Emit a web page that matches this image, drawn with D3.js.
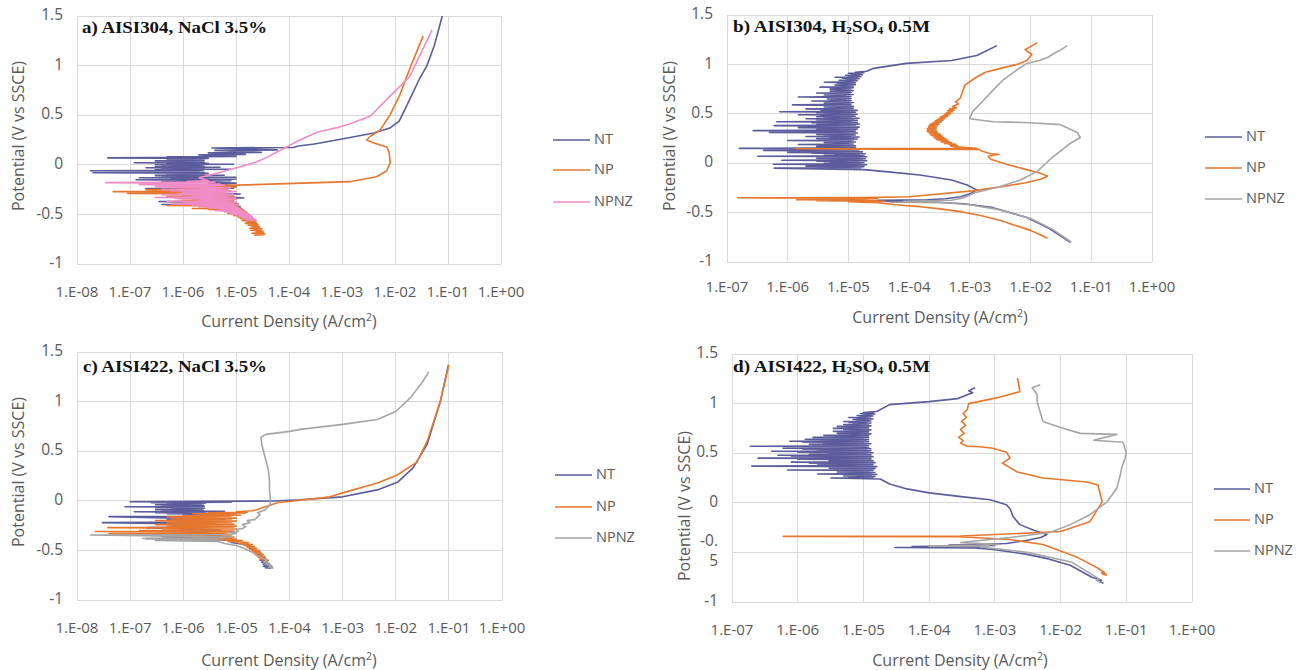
<!DOCTYPE html>
<html><head><meta charset="utf-8">
<script src="https://cdn.jsdelivr.net/npm/d3@7/dist/d3.min.js"></script>
<style>
body{margin:0;background:#fff}
svg{display:block}
text{font-family:"Open Sans",sans-serif;fill:#595959}
.ttl{font-family:"Liberation Serif","Times New Roman",serif;fill:#111;font-weight:bold}
</style>
</head><body>
<svg id="chart" width="1308" height="670"></svg>
<script>
// ---------- DATA ----------
const seriesNames = ["NT", "NP", "NPNZ"];
const yTicks = [-1, -0.5, 0, 0.5, 1, 1.5];
const xTicksFrom8 = [1e-8, 1e-7, 1e-6, 1e-5, 1e-4, 1e-3, 1e-2, 1e-1, 1];
const xTicksFrom7 = [1e-7, 1e-6, 1e-5, 1e-4, 1e-3, 1e-2, 1e-1, 1];
const xTitle = "Current Density (A/cm";
const yTitle = "Potential (V vs SSCE)";

// each point: [current density A/cm2, potential V vs SSCE]
const aNT = [[1.3e-5,-0.44],[9e-6,-0.43],[1.2e-5,-0.42],[4e-7,-0.40],[1.1e-5,-0.395],[3.5e-7,-0.37],[9e-6,-0.365],[1.5e-6,-0.34],[1.4e-5,-0.335],[2e-6,-0.30],[1.2e-5,-0.295],[8e-7,-0.27],[7e-6,-0.265],[2e-7,-0.24],[9e-6,-0.235],[1e-6,-0.22],[1e-5,-0.215],[3e-6,-0.19],[1e-5,-0.185],[4e-7,-0.165],[8e-6,-0.16],[1.3e-7,-0.15],[1e-5,-0.145],[6e-7,-0.14],[3e-6,-0.135],[1.5e-7,-0.13],[1e-5,-0.125],[4e-7,-0.12],[2.5e-6,-0.115],[3e-7,-0.11],[6e-6,-0.105],[5e-7,-0.10],[2.5e-6,-0.095],[3e-7,-0.09],[3e-6,-0.085],[2e-8,-0.08],[2.5e-6,-0.075],[3e-7,-0.07],[2e-6,-0.065],[1.8e-8,-0.06],[2.4e-6,-0.055],[3e-7,-0.05],[8e-6,-0.045],[4e-7,-0.04],[2.5e-6,-0.035],[2e-7,-0.03],[5e-6,-0.025],[3e-7,-0.02],[2.5e-6,-0.015],[4e-7,-0.01],[2.2e-6,-0.005],[3e-7,0.0],[9e-6,0.005],[5e-7,0.01],[3e-6,0.015],[1.2e-7,0.02],[2.5e-6,0.025],[4e-7,0.03],[2.4e-6,0.035],[3e-7,0.04],[2.5e-6,0.045],[5e-7,0.05],[2.4e-6,0.055],[6e-7,0.06],[3e-6,0.065],[3.8e-8,0.07],[2.8e-6,0.075],[5e-7,0.08],[1e-5,0.085],[2e-6,0.10],[1.5e-5,0.105],[3e-6,0.12],[3e-5,0.125],[4e-6,0.145],[6e-5,0.15],[3.5e-6,0.17],[1.2e-4,0.175],[1.5e-4,0.19],[3e-4,0.21],[1e-3,0.26],[4e-3,0.32],[8e-3,0.37],[1.2e-2,0.44],[1.9e-2,0.66],[2.8e-2,0.85],[4e-2,1.0],[5.5e-2,1.2],[7.8e-2,1.5]];
const aNP = [[2.2e-5,-0.71],[3.4e-5,-0.705],[2.5e-5,-0.70],[3.5e-5,-0.695],[2e-5,-0.69],[3.3e-5,-0.68],[2.4e-5,-0.675],[3.2e-5,-0.67],[1.9e-5,-0.66],[3e-5,-0.655],[2.2e-5,-0.65],[3.1e-5,-0.645],[1.8e-5,-0.64],[2.8e-5,-0.63],[2e-5,-0.625],[2.7e-5,-0.62],[1.7e-5,-0.61],[2.6e-5,-0.605],[1.8e-5,-0.60],[2.5e-5,-0.595],[1.5e-5,-0.59],[2.4e-5,-0.58],[1.6e-5,-0.575],[2.3e-5,-0.57],[1.3e-5,-0.56],[2.2e-5,-0.555],[1.4e-5,-0.55],[2.1e-5,-0.545],[1.2e-5,-0.54],[2e-5,-0.53],[1.1e-5,-0.525],[1.9e-5,-0.52],[9e-6,-0.51],[1.8e-5,-0.505],[1e-5,-0.50],[1.7e-5,-0.495],[7e-6,-0.49],[1.6e-5,-0.48],[8e-6,-0.475],[1.5e-5,-0.47],[5e-6,-0.46],[1.4e-5,-0.455],[3e-6,-0.45],[1.3e-5,-0.445],[1.5e-6,-0.44],[1.2e-5,-0.435],[3e-6,-0.43],[1.1e-5,-0.425],[2e-6,-0.42],[1e-5,-0.415],[5e-7,-0.41],[1.1e-5,-0.405],[1.5e-6,-0.40],[9e-6,-0.395],[1e-6,-0.39],[1e-5,-0.385],[2e-6,-0.38],[8e-6,-0.375],[7e-7,-0.37],[9e-6,-0.365],[1e-6,-0.36],[8e-6,-0.355],[1.5e-6,-0.35],[1e-5,-0.345],[8e-7,-0.34],[9e-6,-0.335],[3e-6,-0.33],[8e-6,-0.325],[5e-7,-0.32],[9e-6,-0.315],[1e-6,-0.31],[6e-6,-0.305],[4e-7,-0.30],[7e-6,-0.295],[9e-8,-0.29],[3e-6,-0.285],[1e-6,-0.28],[5e-6,-0.275],[4.8e-8,-0.27],[8e-6,-0.265],[6e-7,-0.26],[6e-6,-0.255],[2e-7,-0.25],[7e-6,-0.245],[1e-6,-0.24],[6e-6,-0.235],[8e-7,-0.23],[1e-5,-0.225],[3e-6,-0.22],[1e-5,-0.215],[2e-6,-0.21],[1.1e-5,-0.205],[1.8e-4,-0.185],[1.4e-3,-0.17],[4.5e-3,-0.12],[7e-3,-0.06],[8.1e-3,0.02],[7.8e-3,0.12],[7e-3,0.18],[4e-3,0.22],[2.9e-3,0.25],[3.5e-3,0.29],[5.2e-3,0.35],[8e-3,0.5],[1.2e-2,0.69],[2e-2,1.0],[3.4e-2,1.3]];
const aNPNZ = [[2.5e-5,-0.56],[1.6e-5,-0.555],[2.3e-5,-0.55],[1.4e-5,-0.54],[2.1e-5,-0.535],[1.3e-5,-0.53],[2e-5,-0.52],[1.1e-5,-0.515],[1.8e-5,-0.51],[9e-6,-0.50],[1.7e-5,-0.495],[8e-6,-0.49],[1.5e-5,-0.48],[6e-6,-0.475],[1.4e-5,-0.47],[4e-6,-0.46],[1.3e-5,-0.455],[5e-6,-0.45],[1.2e-5,-0.44],[3e-6,-0.435],[1.1e-5,-0.43],[2e-6,-0.42],[1e-5,-0.415],[1.5e-6,-0.41],[1.1e-5,-0.40],[6e-7,-0.395],[9e-6,-0.39],[1e-6,-0.38],[1e-5,-0.375],[5e-7,-0.37],[8e-6,-0.36],[2e-6,-0.355],[9e-6,-0.35],[7e-7,-0.34],[1e-5,-0.335],[3e-7,-0.33],[7e-6,-0.32],[1.5e-6,-0.315],[8e-6,-0.31],[4e-7,-0.30],[9e-6,-0.295],[8e-7,-0.29],[6e-6,-0.28],[1e-6,-0.275],[1e-5,-0.27],[6e-7,-0.26],[7e-6,-0.255],[4e-7,-0.25],[5e-6,-0.24],[2e-6,-0.235],[8e-6,-0.23],[3e-7,-0.22],[4e-6,-0.215],[1e-6,-0.21],[6e-6,-0.205],[1.5e-7,-0.20],[5e-6,-0.195],[5e-7,-0.19],[3e-6,-0.185],[3.5e-8,-0.18],[4e-6,-0.175],[1.2e-6,-0.17],[3e-6,-0.16],[2e-6,-0.13],[4e-6,-0.09],[1.2e-5,-0.02],[2.5e-5,0.03],[4e-5,0.08],[1.6e-4,0.25],[3.5e-4,0.33],[9e-4,0.38],[1.5e-3,0.42],[3.4e-3,0.49],[7e-3,0.66],[1.9e-2,0.89],[5e-2,1.36]];

const bNT = [[4.5e-2,-0.80],[3.8e-2,-0.77],[2e-2,-0.66],[8.7e-3,-0.55],[2.4e-3,-0.45],[8e-4,-0.41],[3e-4,-0.395],[1.5e-4,-0.39],[2e-5,-0.385],[1.5e-4,-0.38],[3e-5,-0.375],[2e-4,-0.37],[4e-4,-0.36],[7e-4,-0.34],[1e-3,-0.31],[1.3e-3,-0.27],[9e-4,-0.22],[5e-4,-0.17],[1.5e-4,-0.12],[5e-5,-0.09],[1.8e-5,-0.065],
[6e-7,-0.05],[1.6e-5,-0.045],[5e-6,-0.04],[1.8e-5,-0.035],[2e-6,-0.03],[1.5e-5,-0.025],[6e-6,-0.02],[2e-5,-0.015],[5.8e-7,-0.01],[1.6e-5,-0.005],[4e-6,0],[1.8e-5,0.005],[5e-6,0.01],[1.5e-5,0.015],[3e-6,0.02],[2e-5,0.025],[8e-7,0.03],[1.7e-5,0.035],[5.6e-6,0.04],[1.9e-5,0.045],[3e-6,0.05],[1.6e-5,0.055],[6e-6,0.06],[2e-5,0.065],[3.2e-7,0.07],[1.8e-5,0.075],[4e-6,0.08],[1.5e-5,0.085],[6e-6,0.09],[1.9e-5,0.095],[2.5e-6,0.10],[1.6e-5,0.105],[1e-6,0.11],[1.7e-5,0.115],[5e-6,0.12],[1.4e-5,0.125],[4e-7,0.13],[1.5e-5,0.135],[6e-6,0.14],[1.2e-5,0.145],[1.6e-7,0.15],[1.3e-5,0.155],[5e-6,0.16],[1.1e-5,0.165],[3e-6,0.17],[1.3e-5,0.175],[6e-6,0.18],[1.1e-5,0.185],[1.5e-6,0.19],[1.2e-5,0.195],[5e-6,0.20],[1e-5,0.205],[4e-6,0.21],[1.3e-5,0.215],[6e-6,0.22],[1.1e-5,0.225],[1e-6,0.23],[1.2e-5,0.235],[5e-6,0.24],[1.4e-5,0.245],[3e-6,0.25],[1.2e-5,0.255],[5e-6,0.26],[1.5e-5,0.265],[2e-6,0.27],[1.1e-5,0.275],[4e-6,0.28],[1.3e-5,0.285],[3e-6,0.29],[1.2e-5,0.295],[4.5e-6,0.30],[1.4e-5,0.305],[5e-7,0.31],[1.1e-5,0.315],[3.5e-6,0.32],[1.3e-5,0.325],[2.7e-7,0.33],[9e-6,0.335],[3e-6,0.34],[1.4e-5,0.345],[4e-6,0.35],[1.2e-5,0.355],[1.5e-6,0.36],[1.5e-5,0.365],[3.4e-6,0.37],[1.2e-5,0.375],[6e-7,0.38],[1.3e-5,0.385],[3e-6,0.39],[1.5e-5,0.395],[4e-6,0.40],[1.2e-5,0.405],[2.5e-6,0.41],[1.4e-5,0.415],[6.6e-7,0.42],[1.1e-5,0.425],[3.5e-6,0.43],[1.4e-5,0.435],[3e-6,0.44],[1.2e-5,0.445],[2e-6,0.45],[1.5e-5,0.455],[4e-6,0.46],[1.1e-5,0.465],[3e-6,0.47],[1.3e-5,0.475],[3.5e-6,0.48],[1.2e-5,0.485],[1.5e-6,0.49],[1.4e-5,0.495],[4e-6,0.50],[1.1e-5,0.505],[3e-6,0.51],[1.3e-5,0.515],[7.4e-7,0.52],[1.2e-5,0.525],[4e-6,0.53],[1.4e-5,0.535],[3.5e-6,0.54],[1.1e-5,0.545],[2e-6,0.55],[1.2e-5,0.555],[5e-6,0.56],[1e-5,0.565],[4e-6,0.57],[1.2e-5,0.575],[5e-6,0.58],[1e-5,0.585],[1.2e-6,0.59],[1.1e-5,0.595],[5e-6,0.60],[1e-5,0.605],[4e-6,0.61],[1.2e-5,0.615],[5.5e-6,0.62],[1e-5,0.625],[2.5e-6,0.63],[1.1e-5,0.635],[5e-6,0.64],[9e-6,0.645],[4.5e-6,0.65],[1.1e-5,0.655],[5.5e-6,0.66],[1e-5,0.665],[1.5e-6,0.67],[1.1e-5,0.675],[5e-6,0.68],[9e-6,0.685],[4e-6,0.69],[1.2e-5,0.695],[6e-6,0.70],[1e-5,0.705],[3e-6,0.71],[1.1e-5,0.715],[6e-6,0.72],[1e-5,0.725],[5e-6,0.73],[1.2e-5,0.735],[6.5e-6,0.74],[1e-5,0.745],[5e-6,0.75],[1.1e-5,0.755],[6e-6,0.76],[1.2e-5,0.765],[3.4e-6,0.77],[1.1e-5,0.775],[7e-6,0.78],[1.2e-5,0.785],[6e-6,0.79],[1.3e-5,0.795],[7e-6,0.80],[1.1e-5,0.805],[6.5e-6,0.81],[1.3e-5,0.815],[4e-6,0.82],[1.2e-5,0.825],[8e-6,0.83],[1.4e-5,0.835],[7e-6,0.84],[1.3e-5,0.845],[9e-6,0.85],[1.5e-5,0.855],[8e-6,0.86],[1.4e-5,0.865],[6e-6,0.87],[1.6e-5,0.875],[1e-5,0.88],[1.5e-5,0.885],[9e-6,0.89],[1.7e-5,0.895],[1.1e-5,0.90],[1.6e-5,0.905],[1e-5,0.91],[1.8e-5,0.915],[1.3e-5,0.92],[2e-5,0.93],
[2.6e-5,0.96],[9e-5,1.01],[5e-4,1.04],[1.3e-3,1.09],[2.8e-3,1.19]];
const bNP = [[1.9e-2,-0.76],[1.5e-2,-0.73],[1e-2,-0.68],[5e-3,-0.62],[3.2e-3,-0.58],[1.5e-3,-0.53],[7e-4,-0.49],[3e-4,-0.46],[1.5e-4,-0.44],[6e-5,-0.42],[3e-5,-0.40],[1e-5,-0.39],[4e-5,-0.385],[3e-6,-0.38],[3e-5,-0.375],[1.4e-6,-0.37],[2e-5,-0.365],[5e-6,-0.36],[3e-5,-0.355],[1.5e-7,-0.35],[2e-5,-0.348],[1e-4,-0.34],[1.1e-3,-0.28],[3.2e-3,-0.24],[8e-3,-0.20],[1.5e-2,-0.16],[1.9e-2,-0.13],[1.4e-2,-0.10],[8e-3,-0.06],[4e-3,-0.01],[2.2e-3,0.04],[2e-3,0.07],[3e-3,0.09],[2.2e-3,0.095],[1.6e-3,0.12],[1.4e-3,0.14],[3e-5,0.142],[1.4e-6,0.147],[1.3e-3,0.152],
[6e-4,0.165],[4.8e-4,0.175],[6.2e-4,0.18],[4.5e-4,0.19],[5.8e-4,0.195],[3.8e-4,0.20],[5e-4,0.21],[3.4e-4,0.215],[4.6e-4,0.22],[3.1e-4,0.23],[4.3e-4,0.235],[2.8e-4,0.24],[4e-4,0.25],[2.6e-4,0.255],[3.7e-4,0.26],[2.5e-4,0.27],[3.5e-4,0.275],[2.3e-4,0.28],[3.3e-4,0.29],[2.2e-4,0.295],[3.1e-4,0.30],[2.1e-4,0.31],[2.9e-4,0.315],[2e-4,0.32],[2.8e-4,0.33],[2e-4,0.335],[2.7e-4,0.34],[2e-4,0.35],[2.8e-4,0.355],[2.1e-4,0.36],[2.8e-4,0.37],[2.1e-4,0.375],[2.9e-4,0.38],[2.2e-4,0.39],[3.1e-4,0.395],[2.3e-4,0.40],[3.2e-4,0.41],[2.5e-4,0.415],[3.4e-4,0.42],[2.7e-4,0.43],[3.6e-4,0.435],[2.9e-4,0.44],[3.8e-4,0.45],[3.1e-4,0.455],[4e-4,0.46],[3.3e-4,0.47],[4.3e-4,0.475],[3.6e-4,0.48],[4.6e-4,0.49],[3.8e-4,0.495],[4.8e-4,0.50],[4.1e-4,0.51],[5.2e-4,0.52],[4.3e-4,0.53],[5.6e-4,0.54],[4.6e-4,0.55],[6e-4,0.56],[5.2e-4,0.575],[6.5e-4,0.6],[5.8e-4,0.62],[7e-4,0.66],[7.5e-4,0.72],[8.3e-4,0.79],[1.2e-3,0.86],[1.8e-3,0.92],[3.2e-3,0.96],[6e-3,1.0],[8.7e-3,1.04],[1.05e-2,1.1],[8.1e-3,1.15],[1.3e-2,1.22]];
const bNPNZ = [[4.7e-2,-0.80],[4e-2,-0.77],[2.3e-2,-0.67],[1e-2,-0.56],[3e-3,-0.47],[1e-3,-0.42],[4e-4,-0.40],[5e-5,-0.395],[3e-4,-0.39],[8e-5,-0.385],[5e-4,-0.375],[8e-4,-0.35],[1.2e-3,-0.30],[3e-3,-0.24],[6.8e-3,-0.17],[1.3e-2,-0.08],[2.3e-2,0.06],[4.5e-2,0.2],[6.6e-2,0.26],[5.9e-2,0.31],[3.1e-2,0.39],[1e-2,0.41],[2.4e-3,0.42],[1e-3,0.45],[1.1e-3,0.52],[1.7e-3,0.64],[2.5e-3,0.75],[3.5e-3,0.84],[5.5e-3,0.93],[8.7e-3,1.01],[1.4e-2,1.04],[1.9e-2,1.07],[2.6e-2,1.12],[3.2e-2,1.15],[4e-2,1.19]];

const cNT = [[4.5e-5,-0.68],[3.5e-5,-0.675],[4.7e-5,-0.665],[3.2e-5,-0.66],[4.4e-5,-0.65],[3.2e-5,-0.64],[4e-5,-0.63],[3e-5,-0.62],[3.8e-5,-0.61],[2.8e-5,-0.60],[3.5e-5,-0.58],[2.4e-5,-0.55],[2.8e-5,-0.52],[1.8e-5,-0.48],[1.5e-5,-0.44],[8e-6,-0.42],[1e-5,-0.40],[2e-7,-0.38],[6e-6,-0.375],[4e-7,-0.36],[4e-6,-0.355],[1e-6,-0.35],[5e-6,-0.345],[3e-7,-0.33],[3e-6,-0.325],[8e-7,-0.30],[5e-6,-0.295],[2e-7,-0.27],[3e-6,-0.265],[6e-7,-0.24],[4e-6,-0.235],[3e-8,-0.22],[2e-6,-0.215],[5e-7,-0.19],[6e-6,-0.185],[4e-8,-0.16],[3e-6,-0.155],[1e-6,-0.14],[7e-6,-0.135],
[5e-7,-0.13],[7e-6,-0.125],[3e-7,-0.12],[2.5e-6,-0.115],[1.2e-7,-0.11],[6e-6,-0.105],[4e-7,-0.10],[2.4e-6,-0.095],[3e-7,-0.09],[2.2e-6,-0.085],[6e-7,-0.08],[2.5e-6,-0.075],[3e-7,-0.07],[2.3e-6,-0.065],[8e-8,-0.06],[2.5e-6,-0.055],[4e-7,-0.05],[2.4e-6,-0.045],[3e-7,-0.04],[2.2e-6,-0.035],[5e-7,-0.03],[2.6e-6,-0.025],[2.5e-7,-0.02],[8e-6,-0.015],[1e-7,-0.01],[5e-5,-0.002],[1.6e-4,0.01],[1e-3,0.04],[4.5e-3,0.11],[1.1e-2,0.19],[2.1e-2,0.33],[3.9e-2,0.57],[6.9e-2,1.0],[9.8e-2,1.37]];
const cNP = [[4e-5,-0.62],[3.3e-5,-0.61],[4e-5,-0.60],[2.8e-5,-0.59],[3.6e-5,-0.58],[2.6e-5,-0.57],[3.4e-5,-0.56],[2.4e-5,-0.55],[3.2e-5,-0.54],[2.2e-5,-0.53],[2.9e-5,-0.52],[2e-5,-0.51],[2.7e-5,-0.50],[1.8e-5,-0.49],[2.4e-5,-0.48],[1.6e-5,-0.47],[2.2e-5,-0.46],[1.4e-5,-0.45],[2e-5,-0.44],[1.1e-5,-0.43],[1.7e-5,-0.42],[7e-6,-0.41],[1.3e-5,-0.40],
[2e-6,-0.39],[1e-5,-0.385],[1e-6,-0.38],[8e-6,-0.375],[1.5e-6,-0.37],[9e-6,-0.365],[6e-7,-0.36],[7e-6,-0.355],[2.5e-7,-0.35],[8e-6,-0.345],[1e-6,-0.34],[7e-6,-0.335],[4e-8,-0.33],[6e-6,-0.325],[8e-7,-0.32],[9e-6,-0.315],[2.2e-8,-0.31],[8e-6,-0.305],[1.5e-7,-0.30],[9e-6,-0.295],[6e-7,-0.29],[1e-5,-0.285],[4e-7,-0.28],[8e-6,-0.275],[3.8e-8,-0.27],[9e-6,-0.265],[5e-7,-0.26],[1e-5,-0.255],[7e-7,-0.25],[8e-6,-0.245],[3e-7,-0.24],[9e-6,-0.235],[1.2e-6,-0.23],[7e-6,-0.225],[5e-7,-0.22],[8e-6,-0.215],[8e-7,-0.21],[1e-5,-0.205],[3e-7,-0.20],[6e-6,-0.195],[1e-6,-0.19],[8e-6,-0.185],[6e-7,-0.18],[1e-5,-0.175],[1.5e-6,-0.17],[7e-6,-0.165],[5e-7,-0.16],[8e-6,-0.155],[1e-6,-0.15],[1.2e-5,-0.145],[2e-6,-0.14],[1e-5,-0.135],[1.5e-6,-0.13],[1.5e-5,-0.125],[3e-6,-0.12],[1.6e-5,-0.115],[1e-5,-0.11],[2e-5,-0.10],[2.4e-5,-0.09],[5.9e-5,-0.02],[5.8e-4,0.04],[1e-3,0.08],[4.5e-3,0.18],[1.07e-2,0.26],[2.5e-2,0.39],[3.9e-2,0.6],[6.9e-2,1.0],[1e-1,1.37]];
const cNPNZ = [[5e-5,-0.68],[4e-5,-0.67],[4.6e-5,-0.655],[3.5e-5,-0.64],[4.2e-5,-0.63],[3.3e-5,-0.62],[3.8e-5,-0.60],[2.6e-5,-0.56],[2e-5,-0.52],[1.4e-5,-0.48],[1e-5,-0.45],[6e-6,-0.43],[4.5e-6,-0.41],[3e-7,-0.40],[5e-6,-0.395],[1.7e-7,-0.38],[6e-6,-0.375],[2e-6,-0.37],[8e-6,-0.365],[1.8e-8,-0.345],[7e-6,-0.34],[1e-5,-0.33],[8e-6,-0.32],[1.1e-5,-0.31],[1e-5,-0.29],[1.3e-5,-0.28],[1.5e-5,-0.26],[1.3e-5,-0.24],[1.8e-5,-0.22],[1.6e-5,-0.20],[2.2e-5,-0.19],[2.8e-5,-0.14],[2.5e-5,-0.12],[3.5e-5,-0.09],[4.3e-5,-0.04],[4.4e-5,0.01],[4.2e-5,0.1],[4.2e-5,0.2],[4e-5,0.31],[3.5e-5,0.43],[3e-5,0.57],[2.9e-5,0.64],[3.6e-5,0.67],[1e-4,0.70],[1.6e-4,0.72],[1e-3,0.77],[4.5e-3,0.82],[1e-2,0.9],[1.9e-2,1.04],[3.2e-2,1.2],[4.2e-2,1.3]];

const dNT = [[4.5e-2,-0.81],[3.8e-2,-0.79],[4.2e-2,-0.78],[3e-2,-0.75],[1.4e-2,-0.63],[6e-3,-0.56],[3.1e-3,-0.52],[9.3e-4,-0.47],[5e-4,-0.455],[3e-5,-0.45],[6e-4,-0.445],[5.5e-5,-0.44],[1e-3,-0.43],[2e-4,-0.425],[1.5e-3,-0.41],[3e-3,-0.38],[5e-3,-0.35],[6.2e-3,-0.32],[4e-3,-0.28],[2.4e-3,-0.22],[1.9e-3,-0.14],[1.7e-3,-0.06],[1.5e-3,-0.02],[8.5e-4,0.03],[3.3e-4,0.06],[1e-4,0.10],[4.6e-5,0.14],[2.5e-5,0.19],[1.8e-5,0.24],
[3.2e-6,0.25],[1.4e-5,0.255],[6e-6,0.26],[1.5e-5,0.265],[5e-6,0.27],[1.3e-5,0.275],[7e-6,0.28],[1.6e-5,0.285],[2e-6,0.29],[1.3e-5,0.295],[6e-6,0.30],[1.5e-5,0.305],[4e-6,0.31],[1.2e-5,0.315],[5e-6,0.32],[1.4e-5,0.325],[7e-7,0.33],[1.3e-5,0.335],[4e-6,0.34],[1.5e-5,0.345],[3e-6,0.35],[1.2e-5,0.355],[3.5e-6,0.36],[1.6e-5,0.365],[2e-7,0.37],[1.3e-5,0.375],[3e-6,0.38],[1.4e-5,0.385],[2e-6,0.39],[1.2e-5,0.395],[1.5e-6,0.40],[1.5e-5,0.405],[8e-7,0.41],[1.3e-5,0.415],[3e-6,0.42],[1.4e-5,0.425],[3e-6,0.43],[1.2e-5,0.435],[1e-6,0.44],[1.3e-5,0.445],[2.5e-7,0.45],[1.1e-5,0.455],[2e-6,0.46],[1.4e-5,0.465],[8e-7,0.47],[1.2e-5,0.475],[5e-7,0.48],[1.3e-5,0.485],[1.5e-6,0.49],[1.1e-5,0.495],[3e-6,0.50],[1.4e-5,0.505],[1e-6,0.51],[1.2e-5,0.515],[4e-7,0.52],[1.3e-5,0.525],[2e-6,0.53],[1.1e-5,0.535],[1.2e-6,0.54],[1.3e-5,0.545],[6e-7,0.55],[1.2e-5,0.555],[2.5e-6,0.56],[1.1e-5,0.565],[1.9e-7,0.57],[1.2e-5,0.575],[3e-6,0.58],[1.1e-5,0.585],[1.5e-6,0.59],[1.3e-5,0.595],[2.5e-6,0.60],[1e-5,0.605],[1.2e-6,0.61],[1.2e-5,0.615],[7.6e-7,0.62],[1.1e-5,0.625],[3e-6,0.63],[1.2e-5,0.635],[1.3e-6,0.64],[1e-5,0.645],[4e-6,0.65],[1.2e-5,0.655],[1.7e-6,0.66],[1.1e-5,0.665],[4e-6,0.67],[1.2e-5,0.675],[2.5e-6,0.68],[1e-5,0.685],[5e-6,0.69],[1.3e-5,0.695],[4e-6,0.70],[1.1e-5,0.705],[6e-6,0.71],[1.2e-5,0.715],[3.5e-6,0.72],[1e-5,0.725],[6e-6,0.73],[1.3e-5,0.735],[5e-6,0.74],[1.1e-5,0.745],[3.5e-6,0.75],[1.2e-5,0.755],[6e-6,0.76],[1.1e-5,0.765],[4e-6,0.77],[1.3e-5,0.775],[7e-6,0.78],[1.1e-5,0.785],[5e-6,0.79],[1.2e-5,0.795],[7e-6,0.80],[1.3e-5,0.805],[6e-6,0.81],[1.1e-5,0.815],[5e-6,0.82],[1.3e-5,0.825],[8e-6,0.83],[1.2e-5,0.835],[7e-6,0.84],[1.4e-5,0.845],[8e-6,0.85],[1.2e-5,0.855],[6e-6,0.86],[1.3e-5,0.865],[9e-6,0.87],[1.4e-5,0.875],[8e-6,0.88],[1.3e-5,0.885],[1e-5,0.89],[1.5e-5,0.895],[9e-6,0.90],[1.4e-5,0.905],[1e-5,0.91],[1.6e-5,0.92],
[2.5e-5,0.99],[1e-4,1.02],[2.7e-4,1.05],[3.8e-4,1.09],[4.6e-4,1.11],[4e-4,1.13],[5e-4,1.16]];
const dNP = [[5.1e-2,-0.73],[4.4e-2,-0.72],[4.9e-2,-0.715],[4.2e-2,-0.705],[4.6e-2,-0.70],[3.5e-2,-0.65],[1.8e-2,-0.55],[5.4e-3,-0.42],[1.7e-3,-0.37],[2.9e-4,-0.342],[6e-7,-0.338],[3e-4,-0.334],[1e-3,-0.32],[1e-2,-0.29],[2.8e-2,-0.19],[4.3e-2,0.01],[3.7e-2,0.18],[2.5e-2,0.21],[5.4e-3,0.25],[2.2e-3,0.31],[1.3e-3,0.40],[1.7e-3,0.45],[1.5e-3,0.51],[9.3e-4,0.55],[5.9e-4,0.565],[3.8e-4,0.57],[3e-4,0.60],[3.3e-4,0.63],[2.8e-4,0.66],[3.4e-4,0.70],[3e-4,0.74],[3.6e-4,0.78],[3.1e-4,0.82],[3.7e-4,0.86],[3.3e-4,0.90],[3.8e-4,0.94],[4e-4,1.0],[1.1e-3,1.06],[2.4e-3,1.12],[2.3e-3,1.2],[2.2e-3,1.26]];
const dNPNZ = [[4e-2,-0.80],[3.5e-2,-0.78],[3.9e-2,-0.77],[1.5e-2,-0.60],[3.1e-3,-0.50],[5.4e-4,-0.44],[1e-4,-0.437],[8e-4,-0.433],[2e-4,-0.43],[1.2e-3,-0.42],[3e-4,-0.40],[1.7e-3,-0.35],[6.9e-3,-0.30],[1.4e-2,-0.22],[2.8e-2,-0.12],[5.1e-2,0.01],[7.2e-2,0.15],[8.1e-2,0.28],[8.5e-2,0.35],[9.6e-2,0.45],[1e-1,0.51],[8.9e-2,0.61],[3.2e-2,0.63],[7.2e-2,0.69],[2e-2,0.70],[1e-2,0.76],[5.4e-3,0.82],[4.4e-3,1.02],[4.4e-3,1.09],[3.7e-3,1.16],[4.9e-3,1.19]];

// ---------- LAYOUT ----------
const colNT = "#5B5C9C", colNP = "#E8772E", colPink = "#F08BC6", colGray = "#A5A5A5";
const panels = [
  {title:"a", data:[aNT,aNP,aNPNZ], colors:[colNT,colNP,colPink], xTicks:xTicksFrom8, box:[77,501,16,264],
   tPos:[82,33], tW:185, xLabDy:29, yT:[20,136], xT:[289,327], leg:[553,590,[140,170,202]]},
  {title:"b", data:[bNT,bNP,bNPNZ], colors:[colNT,colNP,colGray], xTicks:xTicksFrom7, box:[727,1152,15,262],
   tPos:[733,32], tW:197, xLabDy:26, yT:[671,136], xT:[940,323], leg:[1205,1242,[137,168,199]]},
  {title:"c", data:[cNT,cNP,cNPNZ], colors:[colNT,colNP,colGray], xTicks:xTicksFrom8, box:[77,502,352,600],
   tPos:[83,372], tW:184, xLabDy:29, yT:[20,472], xT:[289,666], leg:[555,592,[475,507,538]]},
  {title:"d", data:[dNT,dNP,dNPNZ], colors:[colNT,colNP,colGray], xTicks:xTicksFrom7, box:[732,1192,354,602],
   tPos:[733,372], tW:197, xLabDy:29, yT:[686,506], xT:[960,666], leg:[1214,1250,[489,520,551]], split:true}
];
const titleParts = {
  a:[["a) AISI304, NaCl 3.5%",0]],
  b:[["b) AISI304, H",0],["2",1],["SO",0],["4",1],[" 0.5M",0]],
  c:[["c) AISI422, NaCl 3.5%",0]],
  d:[["d) AISI422, H",0],["2",1],["SO",0],["4",1],[" 0.5M",0]]
};

const svg = d3.select("#chart");
const fmtX = d => { const e = Math.round(Math.log10(d)); return "1.E" + (e < 0 ? "-" : "+") + String(Math.abs(e)).padStart(2, "0"); };

panels.forEach(p => {
  const [x0, x1, y0, y1] = p.box;
  const x = d3.scaleLog().domain([p.xTicks[0], 1]).range([x0, x1]);
  const y = d3.scaleLinear().domain([-1, 1.5]).range([y1, y0]);
  const g = svg.append("g");

  g.append("g").selectAll("line").data(p.xTicks).join("line")
    .attr("x1", d => x(d)).attr("x2", d => x(d)).attr("y1", y0).attr("y2", y1)
    .attr("stroke", "#D9D9D9").attr("stroke-width", 1).attr("shape-rendering", "crispEdges");
  g.append("g").selectAll("line").data(yTicks).join("line")
    .attr("x1", x0).attr("x2", x1).attr("y1", d => y(d)).attr("y2", d => y(d))
    .attr("stroke", "#D9D9D9").attr("stroke-width", 1).attr("shape-rendering", "crispEdges");

  g.append("g").selectAll("text").data(p.xTicks).join("text")
    .attr("x", d => x(d)).attr("y", y1 + p.xLabDy).attr("text-anchor", "middle")
    .attr("dominant-baseline", "middle").attr("font-size", 15).text(fmtX);
  const yl = g.append("g").selectAll("text").data(yTicks).join("text")
    .attr("x", x0 - 14).attr("y", d => y(d)).attr("text-anchor", "end")
    .attr("dominant-baseline", "middle").attr("font-size", 15.5);
  yl.each(function(d) {
    const t = d3.select(this);
    if (p.split && d === -0.5) {
      t.append("tspan").attr("x", x0 - 14).attr("dy", -10).text("-0.");
      t.append("tspan").attr("x", x0 - 14).attr("dy", 20).text("5");
    } else t.text(String(d));
  });

  g.append("text").attr("transform", `translate(${p.yT[0]},${p.yT[1]}) rotate(-90)`)
    .attr("text-anchor", "middle").attr("dominant-baseline", "middle").attr("font-size", 16).text(yTitle);
  const xt = g.append("text").attr("x", p.xT[0]).attr("y", p.xT[1]).attr("text-anchor", "middle").attr("font-size", 16);
  xt.append("tspan").text(xTitle);
  xt.append("tspan").attr("font-size", 10.5).attr("dy", -6).text("2");
  xt.append("tspan").attr("dy", 6).text(")");

  const line = d3.line().x(d => x(d[0])).y(d => y(d[1]));
  p.data.forEach((arr, i) => {
    g.append("path").datum(arr).attr("d", line).attr("fill", "none")
      .attr("stroke", p.colors[i]).attr("stroke-width", 1.6).attr("stroke-linejoin", "round");
  });

  const tt = g.append("text").attr("class", "ttl").attr("x", p.tPos[0]).attr("y", p.tPos[1])
    .attr("font-size", 17).attr("textLength", p.tW).attr("lengthAdjust", "spacingAndGlyphs");
  let prevSub = false;
  titleParts[p.title].forEach(([s, sub]) => {
    const sp = tt.append("tspan").text(s);
    if (sub) sp.attr("font-size", 10).attr("dy", 2);
    else if (prevSub) sp.attr("dy", -2);
    prevSub = !!sub;
  });

  const [lx1, lx2, lys] = p.leg;
  seriesNames.forEach((n, i) => {
    g.append("line").attr("x1", lx1).attr("x2", lx2).attr("y1", lys[i]).attr("y2", lys[i])
      .attr("stroke", p.colors[i]).attr("stroke-width", 1.6);
    g.append("text").attr("x", lx2 + 4).attr("y", lys[i]).attr("dominant-baseline", "middle")
      .attr("font-size", 14.5).text(n);
  });
});
</script>
</body></html>
